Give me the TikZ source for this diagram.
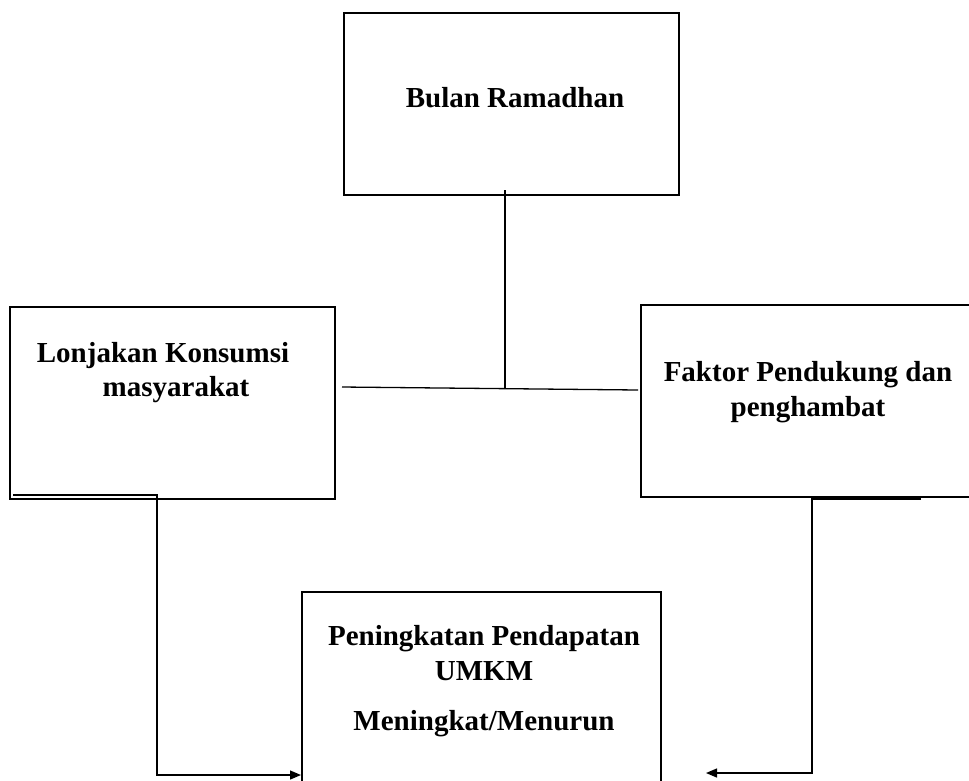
\documentclass[tikz,border=0pt]{standalone}
\usepackage{fontspec}
\setmainfont{Liberation Serif}
\usetikzlibrary{arrows.meta}
\begin{document}
\begin{tikzpicture}[x=1pt,y=-1pt,
  box/.style={draw=black,line width=2.6pt,rectangle,inner sep=0pt},
  lbl/.style={font=\fontsize{29}{34.5}\selectfont\bfseries,align=center,inner sep=0pt},
  conn/.style={draw=black,line width=1.3pt},
  arr/.style={conn,-{Triangle[length=11pt,width=9pt]}}]
\useasboundingbox (0,0) rectangle (969,780);
% boxes
\node[box,minimum width=335pt,minimum height=182pt] (top) at (511.5,104) {};
\node[box,minimum width=325pt,minimum height=192pt] (left) at (172.5,403) {};
\node[box,minimum width=331pt,minimum height=192pt] (right) at (806.5,401) {};
\node[box,minimum width=359pt,minimum height=210pt] (bottom) at (481.5,697) {};
% texts
\node[lbl] (ttop) at (515,98) {Bulan Ramadhan};
\node[lbl] (tleft1) at (163,356) {Lonjakan Konsumsi};
\node[lbl] (tleft2) at (176,390) {masyarakat};
\node[lbl] (tright) at (808,392) {Faktor Pendukung dan\\penghambat};
\node[lbl] (tb1) at (484,653) {Peningkatan Pendapatan\\UMKM};
\node[lbl] (tb2) at (484,724) {Meningkat/Menurun};
% coordinates
\coordinate (v1) at (505,190);
\coordinate (v2) at (505,388);
\coordinate (h1) at (342,387);
\coordinate (h2) at (638,390);
\coordinate (l1) at (13,495);
\coordinate (l2) at (157,495);
\coordinate (l3) at (157,775);
\coordinate (la) at (301,775);
\coordinate (r1) at (921,499);
\coordinate (r2) at (812,499);
\coordinate (r3) at (812,773);
\coordinate (ra) at (706,773);
% connectors
\draw[conn] (v1) -- (v2);
\draw[conn] (h1) -- (h2);
\draw[arr] (l1) -- (l2) -- (l3) -- (la);
\draw[arr] (r1) -- (r2) -- (r3) -- (ra);
\end{tikzpicture}
\end{document}
